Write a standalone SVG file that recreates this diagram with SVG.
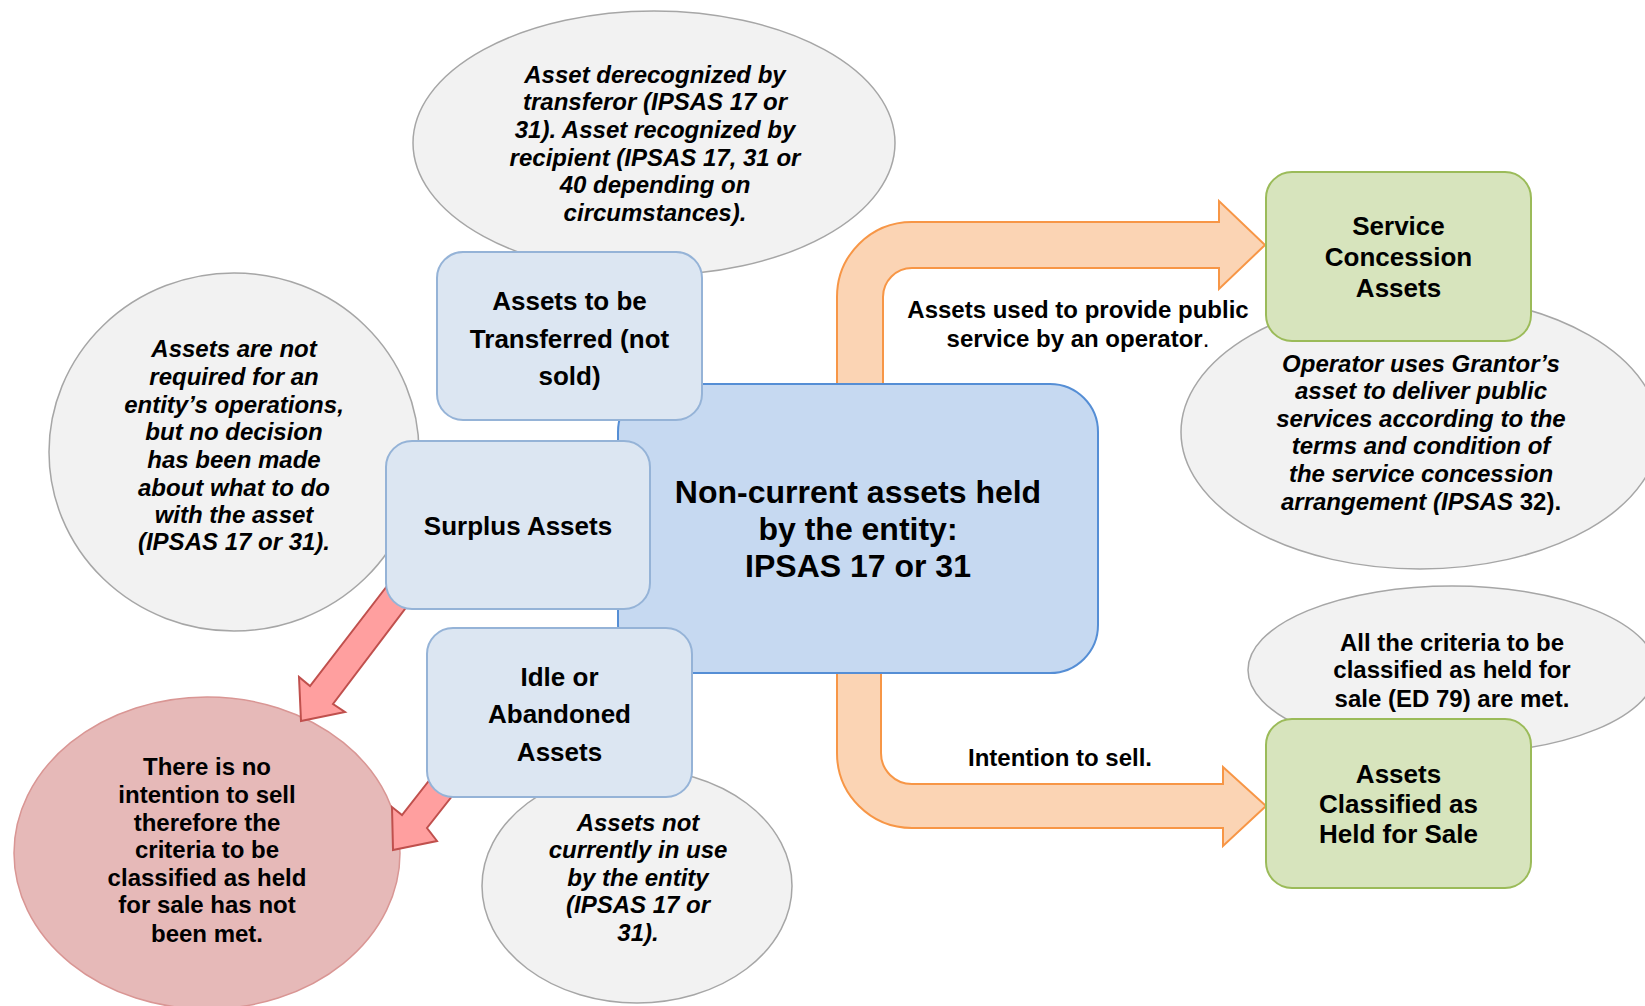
<svg xmlns="http://www.w3.org/2000/svg" width="1645" height="1006" viewBox="0 0 1645 1006">
<style>
text { font-family: "Liberation Sans", Arial, Helvetica, sans-serif; font-weight: bold; fill: #000; text-anchor: middle; }
.i { font-style: italic; font-size: 24px; }
.n24 { font-size: 24px; }
.n26 { font-size: 26px; }
.n32 { font-size: 32px; }
.up { font-style: normal; }
.note { fill: #f2f2f2; stroke: #a6a6a6; stroke-width: 1.5; }
.sub { fill: #dce6f2; stroke: #95b3d7; stroke-width: 2; }
.main { fill: #c6d9f1; stroke: #558ed5; stroke-width: 2; }
.green { fill: #d7e4bd; stroke: #9bbb59; stroke-width: 2; }
.red { fill: #e6b9b8; stroke: #d99694; stroke-width: 1.5; }
.oarrow { fill: #fbd4b4; stroke: #f79646; stroke-width: 2; stroke-linejoin: miter; }
.rarrow { fill: #ff9f9f; stroke: #c0504d; stroke-width: 2; stroke-linejoin: miter; }
</style>
<rect width="1645" height="1006" fill="#ffffff"/>

<g id="note-transfer">
<ellipse class="note" cx="654" cy="143" rx="241" ry="132"/>
<text class="i" x="655" y="83">Asset derecognized by</text>
<text class="i" x="655" y="110">transferor (IPSAS 17 or</text>
<text class="i" x="655" y="138">31). Asset recognized by</text>
<text class="i" x="655" y="166">recipient (IPSAS 17, 31 or</text>
<text class="i" x="655" y="193">40 depending on</text>
<text class="i" x="655" y="221">circumstances).</text>
</g>

<g id="note-surplus">
<ellipse class="note" cx="234" cy="452" rx="185" ry="179"/>
<text class="i" x="234" y="357">Assets are not</text>
<text class="i" x="234" y="385">required for an</text>
<text class="i" x="234" y="413">entity’s operations,</text>
<text class="i" x="234" y="440">but no decision</text>
<text class="i" x="234" y="468">has been made</text>
<text class="i" x="234" y="496">about what to do</text>
<text class="i" x="234" y="523">with the asset</text>
<text class="i" x="234" y="550">(IPSAS 17 or 31).</text>
</g>

<g id="no-intention">
<ellipse class="red" cx="207" cy="853" rx="193" ry="156"/>
<text class="n24" x="207" y="775">There is no</text>
<text class="n24" x="207" y="803">intention to sell</text>
<text class="n24" x="207" y="831">therefore the</text>
<text class="n24" x="207" y="858">criteria to be</text>
<text class="n24" x="207" y="886">classified as held</text>
<text class="n24" x="207" y="913">for sale has not</text>
<text class="n24" x="207" y="942">been met.</text>
</g>

<g id="note-idle">
<ellipse class="note" cx="637" cy="886" rx="155" ry="117"/>
<text class="i" x="638" y="831">Assets not</text>
<text class="i" x="638" y="858">currently in use</text>
<text class="i" x="638" y="886">by the entity</text>
<text class="i" x="638" y="913">(IPSAS 17 or</text>
<text class="i" x="638" y="941">31).</text>
</g>

<g id="note-service">
<ellipse class="note" cx="1420" cy="432" rx="239" ry="137"/>
<text class="i" x="1421" y="372">Operator uses Grantor’s</text>
<text class="i" x="1421" y="399">asset to deliver public</text>
<text class="i" x="1421" y="427">services according to the</text>
<text class="i" x="1421" y="454">terms and condition of</text>
<text class="i" x="1421" y="482">the service concession</text>
<text class="i" x="1421" y="510">arrangement (IPSAS <tspan class="up">32).</tspan></text>
</g>

<g id="note-held">
<ellipse class="note" cx="1452" cy="670" rx="204" ry="84"/>
<text class="n24" x="1452" y="651">All the criteria to be</text>
<text class="n24" x="1452" y="678">classified as held for</text>
<text class="n24" x="1452" y="707">sale (ED 79) are met.</text>
</g>

<g id="connectors">
<path class="oarrow" d="M 837 400 L 837 297 A 75 75 0 0 1 912 222 L 1219 222 L 1219 201 L 1265 245 L 1219 289 L 1219 268 L 912 268 A 29 29 0 0 0 883 297 L 883 400 Z"/>
<path class="oarrow" d="M 837 660 L 837 753 A 75 75 0 0 0 912 828 L 1223 828 L 1223 846 L 1266 806 L 1223 767 L 1223 784 L 912 784 A 31 31 0 0 1 881 753 L 881 660 Z"/>
<polygon class="rarrow" points="397,573 310,686 299,677 301,721 345,712 333,704 417,593"/>
<polygon class="rarrow" points="442,764 402,815 392,807 393,850 437,841 427,828 464,781"/>
<text class="n24" x="1078" y="318">Assets used to provide public</text>
<text class="n24" x="1078" y="347">service by an operator<tspan font-weight="normal">.</tspan></text>
<text class="n24" x="1060" y="766">Intention to sell.</text>
</g>

<g id="main">
<rect class="main" x="618" y="384" width="480" height="289" rx="48" ry="48"/>
<text class="n32" x="858" y="503">Non-current assets held</text>
<text class="n32" x="858" y="540">by the entity:</text>
<text class="n32" x="858" y="577">IPSAS 17 or 31</text>
</g>

<g id="transferred">
<rect class="sub" x="437" y="252" width="265" height="168" rx="26" ry="26"/>
<text class="n26" x="569.5" y="310">Assets to be</text>
<text class="n26" x="569.5" y="348">Transferred (not</text>
<text class="n26" x="569.5" y="385">sold)</text>
</g>

<g id="surplus">
<rect class="sub" x="386" y="441" width="264" height="168" rx="26" ry="26"/>
<text class="n26" x="518" y="535">Surplus Assets</text>
</g>

<g id="idle">
<rect class="sub" x="427" y="628" width="265" height="169" rx="26" ry="26"/>
<text class="n26" x="559.5" y="686">Idle or</text>
<text class="n26" x="559.5" y="723">Abandoned</text>
<text class="n26" x="559.5" y="761">Assets</text>
</g>

<g id="service">
<rect class="green" x="1266" y="172" width="265" height="169" rx="26" ry="26"/>
<text class="n26" x="1398.5" y="235">Service</text>
<text class="n26" x="1398.5" y="266">Concession</text>
<text class="n26" x="1398.5" y="297">Assets</text>
</g>

<g id="held">
<rect class="green" x="1266" y="719" width="265" height="169" rx="26" ry="26"/>
<text class="n26" x="1398.5" y="783">Assets</text>
<text class="n26" x="1398.5" y="813">Classified as</text>
<text class="n26" x="1398.5" y="843">Held for Sale</text>
</g>
</svg>
